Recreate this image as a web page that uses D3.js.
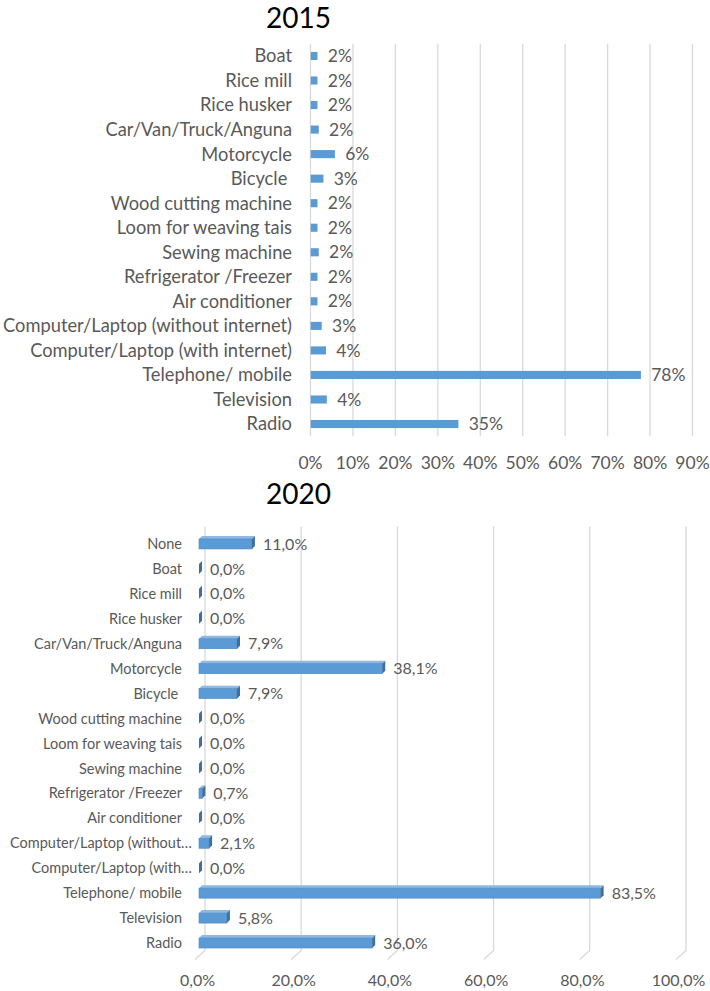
<!DOCTYPE html>
<html>
<head>
<meta charset="utf-8">
<script src="https://cdn.jsdelivr.net/npm/d3@7"></script>
<style>
  body { margin: 0; background: #fff; }
  text { white-space: pre; }
</style>
</head>
<body>
<div id="chart"></div>
<script>
const fontFamily = "Lato, 'Open Sans', sans-serif";
const barFill = "#5B9BD5";
const barDark = "#3E6F9E";
const barLight = "#8DB9E4";
const gridColor = "#D9D9D9";
const textColor = "#595959";

// 2015 (top to bottom as drawn)
const categories2015 = ["Boat", "Rice mill", "Rice husker", "Car/Van/Truck/Anguna", "Motorcycle", "Bicycle ",
  "Wood cutting machine", "Loom for weaving tais", "Sewing machine", "Refrigerator /Freezer", "Air conditioner",
  "Computer/Laptop (without internet)", "Computer/Laptop (with internet)", "Telephone/ mobile", "Television", "Radio"];
const values2015 = [0.016, 0.016, 0.016, 0.019, 0.057, 0.030, 0.016, 0.016, 0.019, 0.016, 0.016,
  0.026, 0.036, 0.778, 0.038, 0.348];
const ticks2015 = [0, 0.1, 0.2, 0.3, 0.4, 0.5, 0.6, 0.7, 0.8, 0.9];

// 2020
const categories2020 = ["None", "Boat", "Rice mill", "Rice husker", "Car/Van/Truck/Anguna", "Motorcycle", "Bicycle ",
  "Wood cutting machine", "Loom for weaving tais", "Sewing machine", "Refrigerator /Freezer", "Air conditioner",
  "Computer/Laptop (without\u2026", "Computer/Laptop (with\u2026", "Telephone/ mobile", "Television", "Radio"];
const values2020 = [0.110, 0, 0, 0, 0.079, 0.381, 0.079, 0, 0, 0, 0.007, 0, 0.021, 0, 0.835, 0.058, 0.360];
const ticks2020 = [0, 0.2, 0.4, 0.6, 0.8, 1.0];

const svg = d3.select("#chart").append("svg")
    .attr("width", 710)
    .attr("height", 991)
    .style("font-family", fontFamily);

const comma = d3.formatLocale({decimal: ",", thousands: ".", grouping: [3], currency: ["", ""]});
const fmt2015 = d3.format(".0%");
const fmt2020 = comma.format(".1%");

// ---------- 2015 ----------
function drawTop() {
    let g = svg.append("g");
    let x = d3.scaleLinear().domain([0, 0.9]).range([310, 692]);
    let y = d3.scaleBand().domain(categories2015).range([43.7, 436.3]).paddingInner(0.67).paddingOuter(0.335);

    g.append("text")
        .attr("x", 298.5).attr("y", 28)
        .attr("text-anchor", "middle")
        .attr("font-size", "28px")
        .attr("fill", "#000")
        .text("2015");

    let axis = d3.axisBottom(x)
        .tickValues(ticks2015)
        .tickFormat(fmt2015)
        .tickSize(-(436.3 - 43.7))
        .tickPadding(20);

    let ax = g.append("g")
        .attr("transform", "translate(0,436.3)")
        .call(axis);
    ax.select(".domain").remove();
    ax.selectAll("line").attr("stroke", gridColor).attr("stroke-width", 1.3);
    ax.selectAll("text")
        .attr("fill", textColor)
        .attr("font-size", "17.5px")
        .attr("font-family", fontFamily)
        .attr("dy", "0.35em")
        .attr("y", 27);

    let data = categories2015.map((c, i) => ({cat: c, value: values2015[i]}));

    g.selectAll("rect.bar")
        .data(data)
        .enter()
        .append("rect")
        .attr("class", "bar")
        .attr("x", x(0) + 0.7)
        .attr("y", d => y(d.cat))
        .attr("width", d => x(d.value) - x(0))
        .attr("height", y.bandwidth())
        .attr("fill", barFill);

    g.selectAll("text.cat")
        .data(data)
        .enter()
        .append("text")
        .attr("class", "cat")
        .attr("x", 292)
        .attr("y", d => y(d.cat) + y.bandwidth() / 2)
        .attr("dy", "0.35em")
        .attr("text-anchor", "end")
        .attr("font-size", "18.3px")
        .attr("fill", textColor)
        .text(d => d.cat);

    g.selectAll("text.val")
        .data(data)
        .enter()
        .append("text")
        .attr("class", "val")
        .attr("x", d => x(d.value) + 11)
        .attr("y", d => y(d.cat) + y.bandwidth() / 2)
        .attr("dy", "0.35em")
        .attr("font-size", "17.5px")
        .attr("fill", textColor)
        .text(d => fmt2015(d.value));
}

// ---------- 2020 (3-D bars) ----------
function drawBottom() {
    let g = svg.append("g");
    let x = d3.scaleLinear().domain([0, 1]).range([199, 680]);
    let y = d3.scaleBand().domain(categories2020).range([531.5, 955.5]).paddingInner(0.6).paddingOuter(0.3);
    let depthX = 3, depthY = -3;
    let wallX = 6, wallY = -5;

    g.append("text")
        .attr("x", 298.5).attr("y", 504)
        .attr("text-anchor", "middle")
        .attr("font-size", "28px")
        .attr("fill", "#000")
        .text("2020");

    // back wall gridlines + floor edges
    g.selectAll("path.grid")
        .data(ticks2020)
        .enter()
        .append("path")
        .attr("class", "grid")
        .attr("d", t => {
            let gx = x(t) + wallX;
            return `M${gx},${531.5 + wallY}V${955.5 + wallY}L${gx - 10},${955.5 + wallY + 9}`;
        })
        .attr("fill", "none")
        .attr("stroke", gridColor)
        .attr("stroke-width", 1.3);

    let axis = d3.axisBottom(x)
        .tickValues(ticks2020)
        .tickFormat(fmt2020)
        .tickSize(0)
        .tickPadding(0);
    let ax = g.append("g")
        .attr("transform", "translate(-2,980)")
        .call(axis);
    ax.select(".domain").remove();
    ax.selectAll("text")
        .attr("fill", textColor)
        .attr("font-size", "16px")
        .attr("font-family", fontFamily)
        .attr("dy", "0.35em")
        .attr("y", 0);

    let data = categories2020.map((c, i) => ({cat: c, value: values2020[i]}));

    let bars = g.selectAll("g.bar")
        .data(data)
        .enter()
        .append("g")
        .attr("class", "bar");

    // top face
    bars.append("path")
        .attr("d", d => {
            let x0 = x(0), x1 = x(d.value), y0 = y(d.cat);
            return `M${x0},${y0}L${x0 + depthX},${y0 + depthY}L${x1 + depthX},${y0 + depthY}L${x1},${y0}Z`;
        })
        .attr("fill", barLight);

    // front face
    bars.append("rect")
        .attr("x", x(0))
        .attr("y", d => y(d.cat))
        .attr("width", d => x(d.value) - x(0))
        .attr("height", y.bandwidth())
        .attr("fill", barFill)
        .attr("stroke", "#4A86BE")
        .attr("stroke-width", 0.6);

    // end cap
    bars.append("path")
        .attr("d", d => {
            let x1 = x(d.value), y0 = y(d.cat), y1 = y0 + y.bandwidth();
            return `M${x1},${y0}L${x1 + depthX},${y0 + depthY}L${x1 + depthX},${y1 + depthY}L${x1},${y1}Z`;
        })
        .attr("fill", barDark);

    g.selectAll("text.cat")
        .data(data)
        .enter()
        .append("text")
        .attr("class", "cat")
        .attr("x", d => d.cat.endsWith("\u2026") ? 192 : 182)
        .attr("y", d => y(d.cat) + y.bandwidth() / 2)
        .attr("dy", "0.35em")
        .attr("text-anchor", "end")
        .attr("font-size", "14.5px")
        .attr("fill", textColor)
        .text(d => d.cat);

    g.selectAll("text.val")
        .data(data)
        .enter()
        .append("text")
        .attr("class", "val")
        .attr("x", d => x(d.value) + depthX + 8)
        .attr("y", d => y(d.cat) + y.bandwidth() / 2)
        .attr("dy", "0.35em")
        .attr("font-size", "16px")
        .attr("fill", textColor)
        .text(d => fmt2020(d.value));
}

drawTop();
drawBottom();
</script>
</body>
</html>
